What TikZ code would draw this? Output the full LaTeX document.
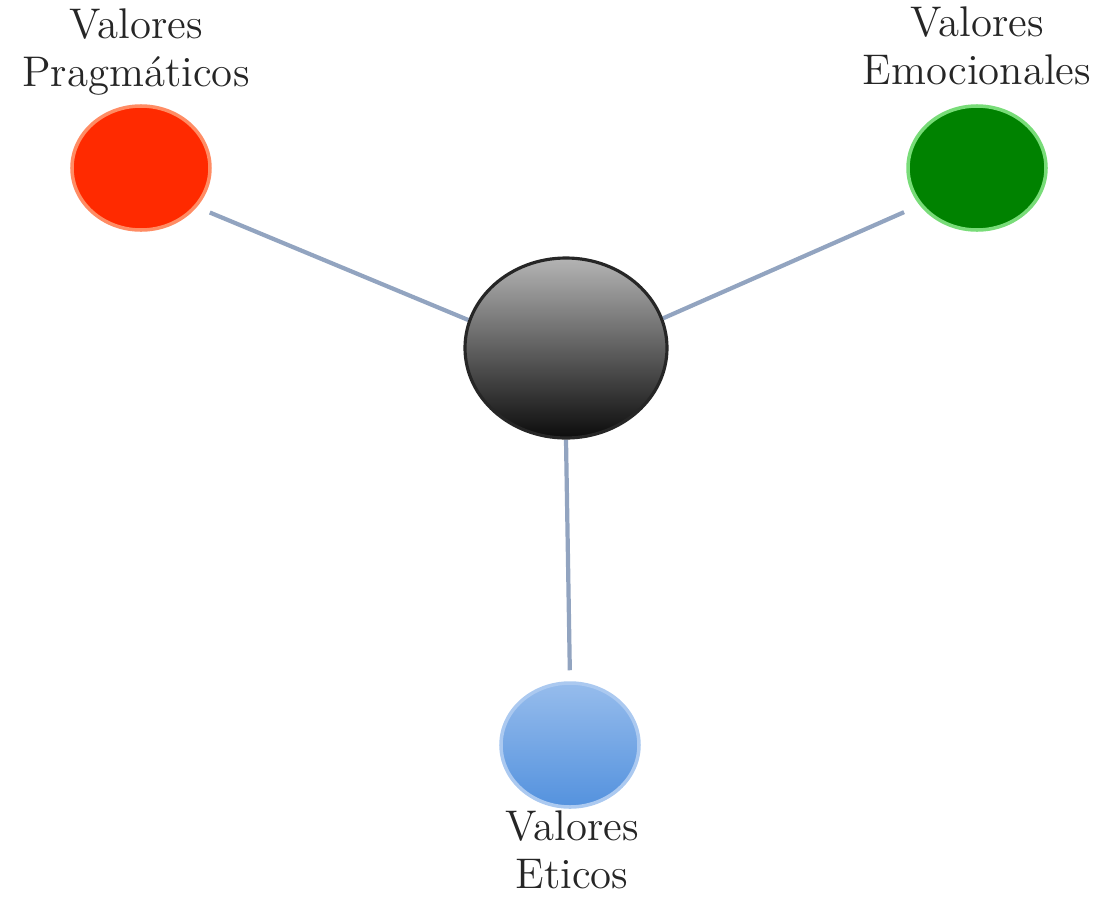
\documentclass[tikz,border=0pt]{standalone}
\usetikzlibrary{backgrounds,shapes}
\pgfdeclarelayer{edgelayer}
\pgfdeclarelayer{nodelayer}
\pgfsetlayers{edgelayer,nodelayer,main}
\definecolor{linkblue}{RGB}{146,164,192}
\definecolor{valred}{RGB}{255,42,0}
\definecolor{valredrim}{RGB}{255,140,100}
\definecolor{valgreen}{RGB}{0,130,0}
\definecolor{valgreenrim}{RGB}{120,220,120}
\definecolor{valbluetop}{RGB}{150,188,236}
\definecolor{valbluebot}{RGB}{84,146,222}
\definecolor{hubtop}{RGB}{180,180,180}
\definecolor{hubbot}{RGB}{12,12,12}
\tikzset{font=\fontsize{12.2}{13.6}\selectfont}
\tikzstyle{none}=[inner sep=0pt]
\tikzstyle{valtext}=[inner sep=0pt,align=center,anchor=north,text=black!85]
\tikzstyle{valcirc}=[ellipse,inner sep=0pt,minimum width=1.38cm,minimum height=1.24cm,line width=1pt]
\tikzstyle{redcirc}=[valcirc,fill=valred,draw=valredrim]
\tikzstyle{greencirc}=[valcirc,fill=valgreen,draw=valgreenrim]
\tikzstyle{bluecirc}=[valcirc,top color=valbluetop,bottom color=valbluebot,draw=valbluetop!80!white]
\tikzstyle{hub}=[ellipse,inner sep=0pt,minimum width=2.02cm,minimum height=1.8cm,draw=black!85,line width=0.9pt,top color=hubtop,bottom color=hubbot]
\tikzstyle{link}=[draw=linkblue,line width=1.2pt]

\begin{document}
\begin{tikzpicture}
	\useasboundingbox (-5.66, 3.48) rectangle (5.40, -5.49);
	\begin{pgfonlayer}{nodelayer}
		\node [style=hub] (0) at (0, 0) {};
		\node [style=redcirc] (1) at (-4.25, 1.8) {};
		\node [style=greencirc] (2) at (4.11, 1.8) {};
		\node [style=bluecirc] (3) at (0.04, -3.97) {};
		\node [style=valtext] (4) at (-4.30, 3.40) {Valores\\Pragmáticos};
		\node [style=valtext] (5) at (4.11, 3.42) {Valores\\Emocionales};
		\node [style=valtext] (6) at (0.06, -4.62) {Valores\\Eticos};
	\end{pgfonlayer}
	\begin{pgfonlayer}{edgelayer}
		\draw [style=link, shorten >=0.14cm] (0.164) to (1.-35.5);
		\draw [style=link, shorten >=0.17cm] (0.17) to (2.213);
		\draw [style=link, shorten >=0.11cm] (0.south) to (3.north);
	\end{pgfonlayer}
\end{tikzpicture}
\end{document}
